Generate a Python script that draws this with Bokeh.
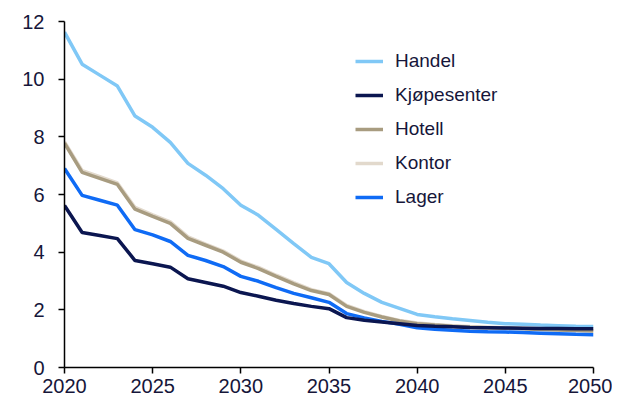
from bokeh.plotting import figure
from bokeh.models import Legend, LegendItem, FixedTicker, Range1d
from bokeh.embed import file_html
from bokeh.resources import INLINE

years = list(range(2020, 2051))

handel = [11.63, 10.52, 10.14, 9.76, 8.72, 8.33, 7.81, 7.08, 6.67, 6.20,
          5.63, 5.28, 4.79, 4.30, 3.82, 3.60, 2.95, 2.57, 2.26, 2.05,
          1.84, 1.76, 1.69, 1.63, 1.57, 1.52, 1.50, 1.47, 1.45, 1.43, 1.42]
kjopesenter = [5.62, 4.68, 4.58, 4.47, 3.71, 3.60, 3.48, 3.08, 2.95, 2.82,
               2.60, 2.47, 2.33, 2.22, 2.12, 2.04, 1.73, 1.64, 1.58, 1.52,
               1.46, 1.43, 1.41, 1.39, 1.38, 1.37, 1.36, 1.35, 1.35, 1.34, 1.34]
hotell = [7.78, 6.77, 6.56, 6.35, 5.49, 5.24, 5.00, 4.48, 4.24, 4.00,
          3.65, 3.43, 3.16, 2.90, 2.67, 2.53, 2.12, 1.91, 1.75, 1.61,
          1.52, 1.47, 1.43, 1.40, 1.38, 1.36, 1.34, 1.32, 1.30, 1.28, 1.27]
kontor = [7.82, 6.83, 6.62, 6.40, 5.55, 5.29, 5.05, 4.53, 4.28, 4.04,
          3.69, 3.47, 3.20, 2.94, 2.70, 2.56, 2.15, 1.94, 1.77, 1.63,
          1.54, 1.49, 1.45, 1.42, 1.40, 1.38, 1.36, 1.34, 1.32, 1.30, 1.29]
lager = [6.90, 5.97, 5.80, 5.63, 4.78, 4.60, 4.37, 3.89, 3.71, 3.50,
         3.16, 2.99, 2.77, 2.57, 2.42, 2.26, 1.87, 1.72, 1.60, 1.50,
         1.38, 1.33, 1.29, 1.26, 1.24, 1.23, 1.21, 1.19, 1.17, 1.15, 1.14]

names = ["Handel", "Kjøpesenter", "Hotell", "Kontor", "Lager"]
colors = ["#80C8F6", "#0B1650", "#A89C80", "#E2D9CC", "#0F6BF5"]
x_ticks = [2020, 2025, 2030, 2035, 2040, 2045, 2050]
y_ticks = [0, 2, 4, 6, 8, 10, 12]

FONT = "Liberation Sans"
TXT = "#16163A"

p = figure(width=612, height=401, output_backend="svg",
           toolbar_location=None, x_range=Range1d(2020, 2050),
           y_range=Range1d(0, 12), min_border_left=64, min_border_right=19,
           min_border_top=21, min_border_bottom=34)
p.outline_line_color = None
p.xgrid.visible = False
p.ygrid.visible = False
p.background_fill_color = "white"

for ax in (p.xaxis[0], p.yaxis[0]):
    ax.axis_line_color = "black"
    ax.axis_line_width = 1.5
    ax.major_tick_line_color = "black"
    ax.major_tick_line_width = 1.5
    ax.major_tick_out = 6
    ax.major_tick_in = 0
    ax.minor_tick_line_color = None
    ax.major_label_text_font = FONT
    ax.major_label_text_font_size = "20px"
    ax.major_label_text_color = TXT
p.xaxis[0].ticker = FixedTicker(ticks=x_ticks)
p.yaxis[0].ticker = FixedTicker(ticks=y_ticks)
p.xaxis[0].major_label_standoff = 5
p.yaxis[0].major_label_standoff = 14

series = {"Handel": handel, "Kjøpesenter": kjopesenter, "Hotell": hotell,
          "Kontor": kontor, "Lager": lager}
renderers = {}
draw_order = ["Kontor", "Handel", "Hotell", "Lager", "Kjøpesenter"]
for name in draw_order:
    c = colors[names.index(name)]
    renderers[name] = p.line(years, series[name], line_color=c, line_width=3.5)

items = [LegendItem(label=n, renderers=[renderers[n]]) for n in names]
legend = Legend(items=items, location=(291, 159))
legend.background_fill_alpha = 0
legend.border_line_color = None
legend.padding = 0
legend.margin = 0
legend.spacing = 12
legend.label_height = 22
legend.glyph_height = 22
legend.glyph_width = 28
legend.label_standoff = 12
legend.label_text_font = FONT
legend.label_text_font_size = "19px"
legend.label_text_color = TXT
p.add_layout(legend)

open("out.html", "w").write(file_html(p, INLINE))
